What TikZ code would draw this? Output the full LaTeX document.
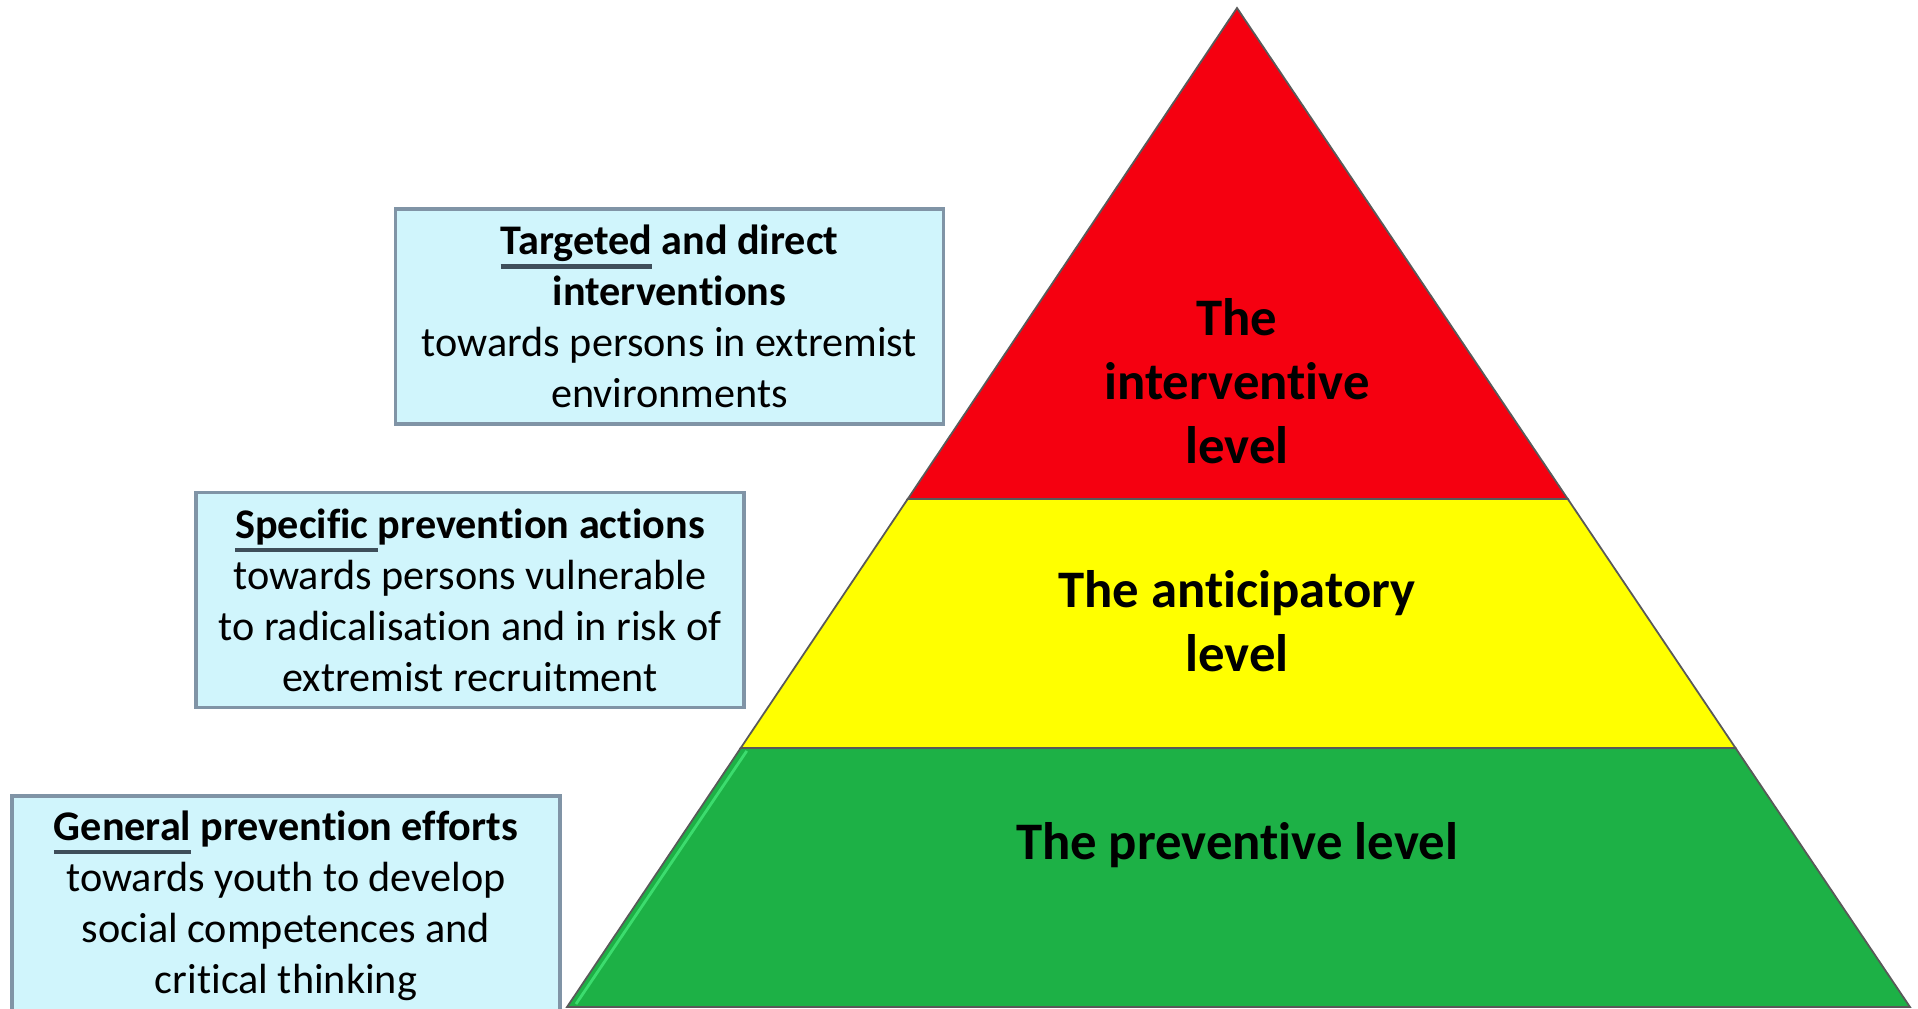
\documentclass[tikz,border=0pt]{standalone}
\usepackage{fontspec}
\setmainfont[Ligatures={NoCommon}]{Carlito}
\usetikzlibrary{calc}

\definecolor{boxfill}{RGB}{208,245,252}
\definecolor{boxedge}{RGB}{128,148,166}
\definecolor{ulcolor}{RGB}{62,78,90}
\definecolor{pyrred}{RGB}{245,0,16}
\definecolor{pyryellow}{RGB}{255,255,0}
\definecolor{pyrgreen}{RGB}{29,177,70}
\definecolor{edgegreen}{RGB}{60,220,110}

\newcommand{\keyword}[1]{\setbox0=\hbox{#1}\rlap{\color{ulcolor}\rule[-4pt]{\wd0}{1.3pt}}\box0\relax}

\begin{document}
\begin{tikzpicture}[x=0.01cm,y=-0.01cm,
infobox/.style={draw=boxedge,line width=1pt,fill=boxfill,minimum width=5.48cm,minimum height=2.15cm,inner sep=0pt,align=center,font=\fontsize{12}{14.5}\selectfont},
levelnote/.style={align=center,font=\fontsize{15}{18.2}\selectfont\bfseries},
layer/.style={draw=black!65,line width=0.5pt}]

\fill[white] (0,0) rectangle (1918,1009);
\clip (0,0) rectangle (1918,1009);

\coordinate (apex) at (1237,8);
\coordinate (bl) at (567,1007);
\coordinate (br) at (1910,1007);
\coordinate (rl) at ($(apex)!0.4915!(bl)$);
\coordinate (rr) at ($(apex)!0.4915!(br)$);
\coordinate (yl) at ($(apex)!0.7407!(bl)$);
\coordinate (yr) at ($(apex)!0.7407!(br)$);

% pyramid
\filldraw [layer,fill=pyrred] (apex) -- (rl) -- (rr) -- cycle;
\filldraw [layer,fill=pyryellow] (rl) -- (yl) -- (yr) -- (rr) -- cycle;
\filldraw [layer,fill=pyrgreen] (yl) -- (bl) -- (br) -- (yr) -- cycle;
\draw [edgegreen,line width=0.8pt] ($(yl)+(6,3)$) -- ($(bl)+(9,-3)$);

\node (interv) at (1237,381) [levelnote] {The\\ interventive\\ level};
\node (anticip) at (1237,621) [levelnote] {The anticipatory\\ level};
\node (prevent) at (1237,845) [levelnote] {The preventive level};

% boxes
\node (targeted) at (669.5,316.5) [infobox] {\textbf{\keyword{Targeted} and direct}\\ \textbf{interventions}\\ towards persons in extremist\\ environments};
\node (specific) at (470,600) [infobox] {\textbf{\keyword{Specific\ }prevention actions}\\ towards persons vulnerable\\ to radicalisation and in risk of\\ extremist recruitment};
\node (general) at (286,905.5) [infobox,minimum height=2.19cm] {\textbf{\keyword{General} prevention efforts}\\ towards youth to develop\\ social competences and\\ critical thinking};

\end{tikzpicture}
\end{document}
